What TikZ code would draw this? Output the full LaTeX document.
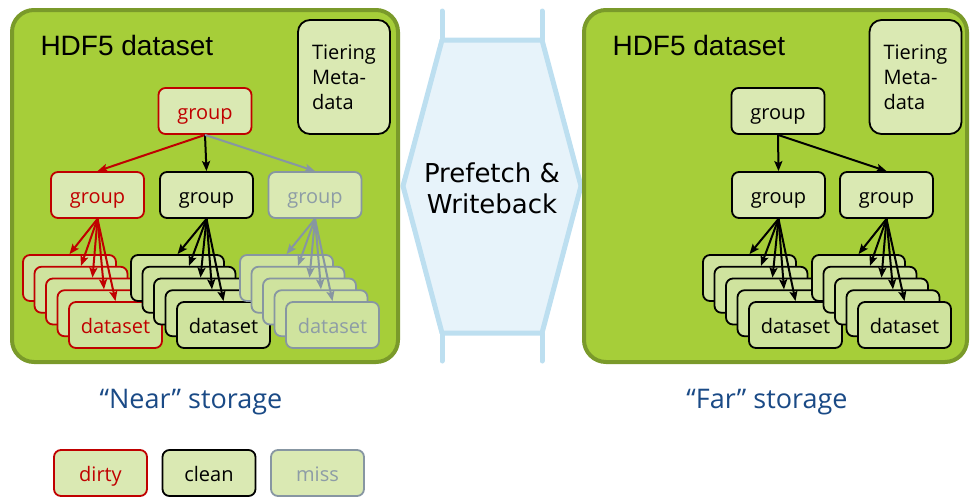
\documentclass[tikz,border=0pt]{standalone}
\usepackage{fontspec}
\setmainfont{Open Sans}
\newfontfamily\titlefont{Liberation Sans}
\newfontfamily\bandfont{DejaVu Sans}
\usetikzlibrary{arrows.meta}

\definecolor{panelfill}{HTML}{A6CE39}
\definecolor{paneledge}{HTML}{7A9A2A}
\definecolor{groupfill}{HTML}{DAE9B3}
\definecolor{dsfill}{HTML}{CFE39E}
\definecolor{dirtyred}{HTML}{C00000}
\definecolor{missgray}{HTML}{8796A2}
\definecolor{missgraytext}{HTML}{8D9CA6}
\definecolor{bandfill}{HTML}{E7F3FA}
\definecolor{bandedge}{HTML}{BDDFF0}
\definecolor{labelblue}{HTML}{1A4A86}

\tikzset{
  panel/.style={draw=paneledge, fill=panelfill, line width=4pt, rounded corners=22pt},
  box/.style={draw, rounded corners=7pt, line width=1.8pt, minimum width=93pt,
    minimum height=46pt, inner sep=0pt, text height=18pt, text depth=1pt,
    font=\fontsize{20}{24}\selectfont},
  grp/.style={box, fill=groupfill},
  ds/.style={box, fill=dsfill},
  dirty/.style={draw=dirtyred, text=dirtyred},
  clean/.style={draw=black, text=black},
  miss/.style={draw=missgray, text=missgraytext},
  link/.style={line width=2pt, -{Stealth[length=10pt,width=8pt,inset=2pt]}},
  title/.style={anchor=west, font=\titlefont\fontsize{28}{32}\selectfont},
  meta/.style={draw, fill=groupfill, line width=1.8pt, rounded corners=12pt,
    minimum width=92pt, minimum height=114pt, inner sep=0pt, align=left,
    font=\fontsize{20}{25}\selectfont},
  tierlabel/.style={text=labelblue, font=\fontsize{27}{30}\selectfont},
}

% a stack of five dataset boxes under a group, with one arrow to each box
% #1 node prefix, #2 x of the rear box centre, #3 state style, #4 parent group
\newcommand\dsstack[4]{%
  \foreach \i in {0,...,3} {
    \node[ds,#3] (#1\i) at ({#2+11.5*\i},{278+11.75*\i}) {};
  }
  \node[ds,#3] (#14) at ({#2+46},{325}) {dataset};
  \foreach \i in {0,...,4} {
    \draw[link,#3] (#4.south) -- (#1\i.north);
  }
}

\begin{document}
\begin{tikzpicture}[x=1pt,y=-1pt]
\useasboundingbox (0,0) rectangle (971,496);

% transfer band between the two storage tiers
\draw[bandedge, fill=bandfill, line width=5pt, line join=round]
  (442,40) -- (542,40) -- (581,186) -- (542,333) -- (442,333) -- (403,186) -- cycle;
\draw[bandedge, line width=5pt, line cap=round]
  (442,11) -- (442,40) (542,11) -- (542,40) (442,333) -- (442,361) (542,333) -- (542,361);
\node[font=\bandfont\fontsize{26}{31}\selectfont, align=center] (band) at (492,188)
  {Prefetch \&\\Writeback};

% near storage
\draw[panel] (12,10) rectangle (398,362);
\node[title] (ntitle) at (37,45) {HDF5 dataset};
\node[meta] (nmeta) at (344,77) {Tiering\\Meta-\\data};

\node[grp,dirty] (ntop) at (205,111) {group};
\node[grp,dirty] (ng1) at (97.5,195) {group};
\node[grp,clean] (ng2) at (206.5,195) {group};
\node[grp,miss]  (ng3) at (315,195) {group};
\draw[link,dirtyred] (ntop.south) -- (ng1.north);
\draw[link,black] (ntop.south) -- (ng2.north);
\draw[link,missgray] (ntop.south) -- (ng3.north);

\dsstack{na}{69.5}{dirty}{ng1}
\dsstack{nb}{177.5}{clean}{ng2}
\dsstack{nc}{286.5}{miss}{ng3}

% far storage
\draw[panel] (584,10) rectangle (967,362);
\node[title] (ftitle) at (609,45) {HDF5 dataset};
\node[meta] (fmeta) at (915.5,77) {Tiering\\Meta-\\data};

\node[grp,clean] (ftop) at (778,111) {group};
\node[grp,clean] (fg1) at (778.5,195) {group};
\node[grp,clean] (fg2) at (886.5,195) {group};
\draw[link,black] (ftop.south) -- (fg1.north);
\draw[link,black] (ftop.south) -- (fg2.north);

\dsstack{fa}{749.5}{clean}{fg1}
\dsstack{fb}{858.5}{clean}{fg2}

% tier captions
\node[tierlabel] (nlabel) at (191,402) {“Near” storage};
\node[tierlabel] (flabel) at (767,402) {“Far” storage};

% legend
\node[grp,dirty] (ldirty) at (100.5,473) {dirty};
\node[grp,clean] (lclean) at (209,473) {clean};
\node[grp,miss]  (lmiss)  at (317.5,473) {miss};
\end{tikzpicture}
\end{document}
